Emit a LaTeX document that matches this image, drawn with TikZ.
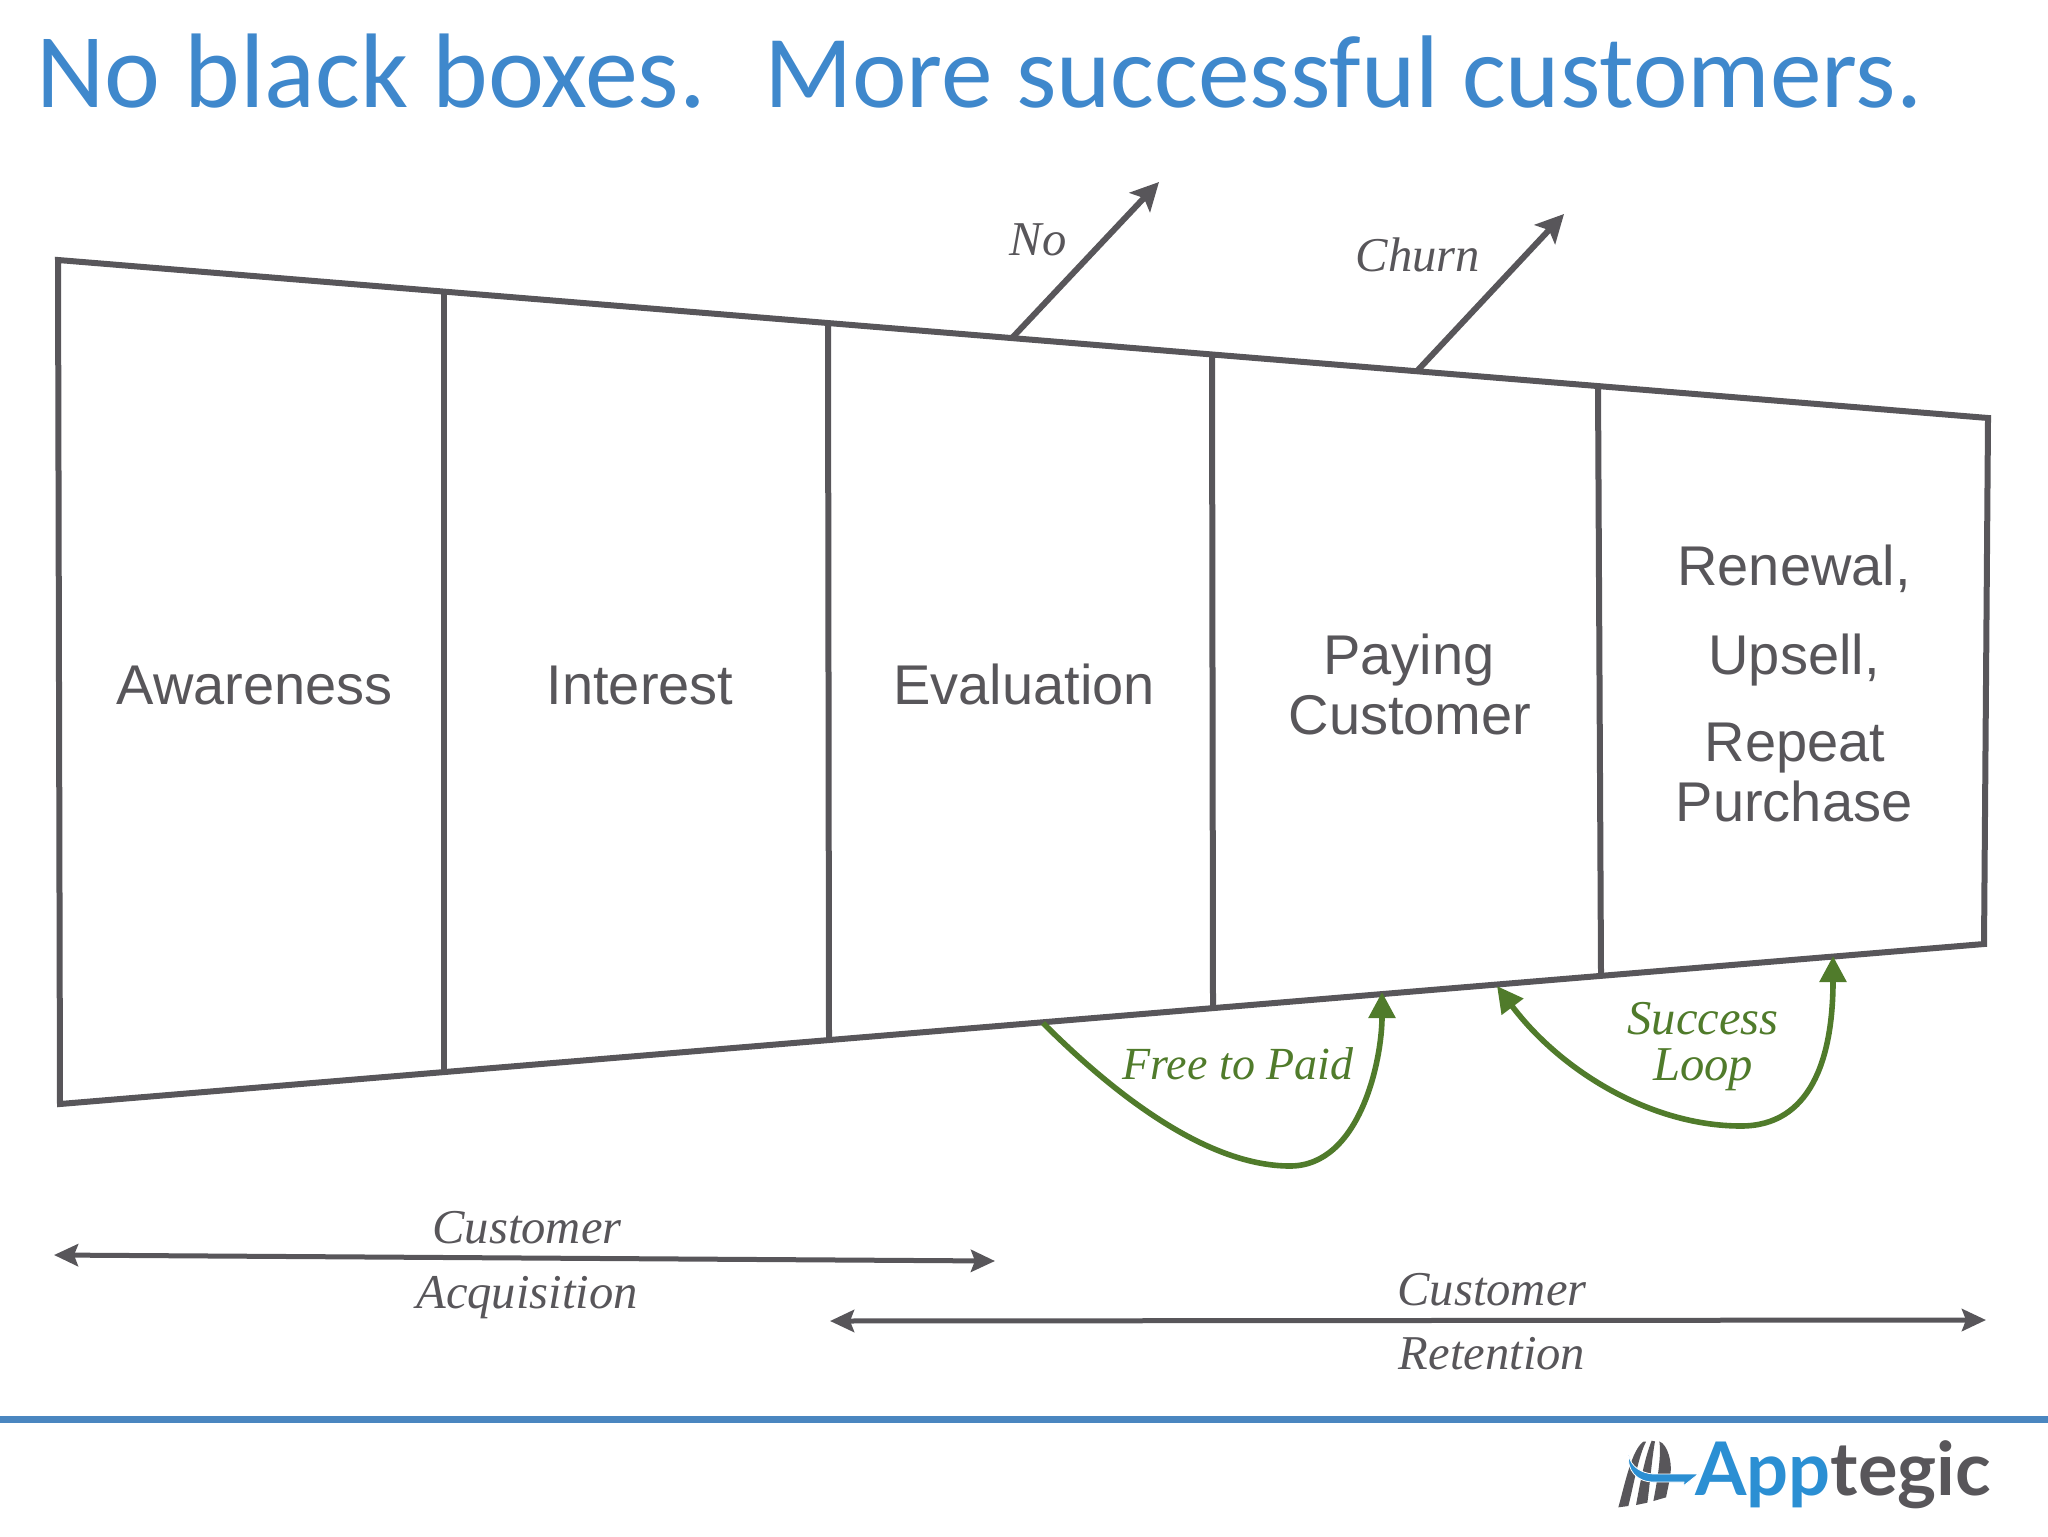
\documentclass[tikz,border=0pt]{standalone}
\usepackage{fontspec}
\usetikzlibrary{arrows.meta}
\setmainfont{Liberation Sans}
\newfontfamily\titlefont{Carlito}
\newfontfamily\notefont{Liberation Serif}
\newfontfamily\logofont{Lato}
\definecolor{funnelgray}{HTML}{58565A}
\definecolor{loopgreen}{HTML}{507B2B}
\definecolor{titleblue}{HTML}{3F88CC}
\definecolor{ruleblue}{HTML}{4A86C0}
\definecolor{logoblue}{HTML}{2B8FD3}
\tikzset{
  stage/.style={text=funnelgray,font=\fontsize{28}{29}\selectfont,inner sep=0pt,align=center},
  note/.style={text=funnelgray,font=\notefont\itshape\fontsize{24.3}{25}\selectfont,inner sep=0pt,align=center},
  greennote/.style={note,text=loopgreen},
  funnel/.style={draw=funnelgray,line width=3pt,line join=miter},
  exit/.style={draw=funnelgray,line width=3pt,-{Stealth[length=14pt,width=14pt,inset=3pt]}},
  span/.style={draw=funnelgray,line width=2.5pt,{Stealth[length=12pt,width=11pt,inset=2pt]}-{Stealth[length=12pt,width=11pt,inset=2pt]}},
  loop/.style={draw=loopgreen,line width=2.8pt,-{Triangle[length=13pt,width=13pt]}}
}
\begin{document}
\begin{tikzpicture}[x=0.5pt,y=-0.5pt]
  \useasboundingbox (0,0) rectangle (2048,1536);
  \node[anchor=base west,inner sep=0pt,text=titleblue,font=\titlefont\fontsize{53}{54}\selectfont] (title) at (36,108) {No black boxes.\hspace{29pt}{\fontsize{51.65}{54}\selectfont More successful customers.}};
  % funnel
  \coordinate (tl) at (58,260);
  \coordinate (tr) at (1988,418);
  \coordinate (br) at (1984,944);
  \coordinate (bl) at (60,1104);
  \draw[funnel] (tl) -- (tr) -- (br) -- (bl) -- cycle;
  \coordinate (t1) at (444,291);
  \coordinate (b1) at (444,1071);
  \coordinate (t2) at (828,324);
  \coordinate (b2) at (829,1040);
  \coordinate (t3) at (1212,355);
  \coordinate (b3) at (1213,1007);
  \coordinate (t4) at (1598,387);
  \coordinate (b4) at (1601,974);
  \draw[funnel] (t1) -- (b1);
  \draw[funnel] (t2) -- (b2);
  \draw[funnel] (t3) -- (b3);
  \draw[funnel] (t4) -- (b4);
  \node[stage] (awareness) at (255,685) {Awareness};
  \node[stage] (interest) at (640,685) {Interest};
  \node[stage] (evaluation) at (1024,684) {Evaluation};
  \node[stage] (paying) at (1409,660) {Paying};
  \node[stage] (customer) at (1410,715) {Customer};
  \node[stage] (renewal) at (1794,569) {Renewal,};
  \node[stage] (upsell) at (1794,660) {Upsell,};
  \node[stage] (repeat) at (1795,748) {Repeat};
  \node[stage] (purchase) at (1794,801) {Purchase};
  % exits
  \coordinate (nofrom) at (1012,338);
  \coordinate (noto) at (1159,182);
  \coordinate (churnfrom) at (1418,370);
  \coordinate (churnto) at (1564,214);
  \draw[exit] (nofrom) -- (noto);
  \draw[exit] (churnfrom) -- (churnto);
  \node[note] (no) at (1038,240) {No};
  \node[note] (churn) at (1418,255) {Churn};
  % loops
  \coordinate (freefrom) at (1043,1023);
  \coordinate (freeto) at (1382,992);
  \coordinate (freelow) at (1290,1166);
  \coordinate (succfrom) at (1833,956);
  \coordinate (succlow) at (1741,1126);
  \coordinate (succto) at (1497,986);
  \draw[loop] (freefrom) .. controls (1120,1100) and (1210,1166) .. (freelow) .. controls (1360,1166) and (1382,1060) .. (freeto);
  \draw[loop,{Triangle[length=13pt,width=13pt]}-{Triangle[length=13pt,width=13pt]}] (succfrom) .. controls (1833,1060) and (1810,1126) .. (succlow) .. controls (1650,1126) and (1560,1070) .. (succto);
  \node[greennote,font=\notefont\itshape\fontsize{23}{24}\selectfont] (freepaid) at (1238,1064) {Free to Paid};
  \node[greennote] (success) at (1703,1019) {Success};
  \node[greennote] (loopword) at (1703,1070) {Loop};
  % spans
  \coordinate (acqleft) at (54,1255);
  \coordinate (acqright) at (995,1261);
  \coordinate (retleft) at (830,1321);
  \coordinate (retright) at (1986,1320);
  \draw[span] (acqleft) -- (acqright);
  \draw[span] (retleft) -- (retright);
  \node[note] (acq1) at (527,1228) {Customer};
  \node[note] (acq2) at (527,1298) {Acquisition};
  \node[note] (ret1) at (1492,1290) {Customer};
  \node[note] (ret2) at (1492,1354) {Retention};
  % footer
  \coordinate (ruleleft) at (0,1419);
  \coordinate (ruleright) at (2048,1419);
  \draw[ruleblue,line width=3.5pt] (ruleleft) -- (ruleright);
  \node[anchor=base west,inner sep=0pt,font=\logofont\bfseries\fontsize{37}{40}\selectfont] (logo) at (1695,1495) {\textcolor{logoblue}{App}\textcolor{funnelgray}{tegic}};
  \begin{scope}[shift={(1560,1400)},scale=1/3]
    \fill[funnelgray] (175,322) .. controls (195,250) and (215,150) .. (250,125) -- (258,125) .. controls (235,170) and (222,250) .. (205,318) -- cycle;
    \fill[funnelgray] (228,315) .. controls (240,250) and (255,170) .. (275,122) -- (285,124) .. controls (275,180) and (270,250) .. (262,308) -- cycle;
    \fill[funnelgray] (280,303) .. controls (290,250) and (305,170) .. (298,124) .. controls (325,135) and (335,190) .. (332,215) .. controls (328,250) and (322,270) .. (318,292) -- cycle;
    \filldraw[fill=logoblue,draw=white,line width=0.4pt] (206,165) .. controls (212,200) and (245,220) .. (280,222) -- (415,222) -- (370,258) -- (372,246) -- (280,246) .. controls (230,246) and (200,210) .. (206,165) -- cycle;
  \end{scope}
\end{tikzpicture}
\end{document}
